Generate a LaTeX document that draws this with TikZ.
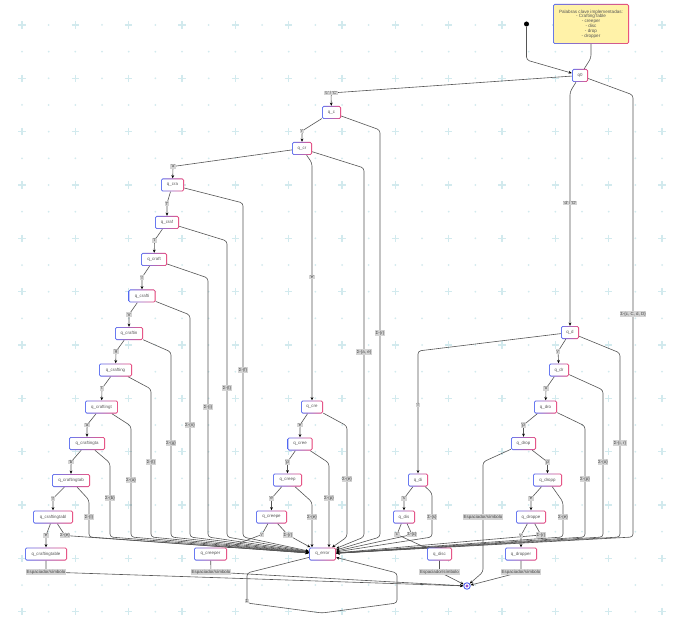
\documentclass[tikz,border=0pt]{standalone}
\usepackage{fontspec}
\setmainfont{Liberation Sans}[Ligatures=TeXOff]
\usetikzlibrary{arrows.meta}
\definecolor{gridc}{HTML}{D2EAEE}
\definecolor{sblue}{HTML}{5468F0}
\definecolor{spink}{HTML}{E83E74}
\definecolor{txtc}{HTML}{555555}
\definecolor{lblbg}{HTML}{D4D4D4}
\definecolor{lbltx}{HTML}{444444}
\definecolor{edgec}{HTML}{555555}
\definecolor{notey}{HTML}{FFF2A8}
\definecolor{finc}{HTML}{9A4FC8}
\pgfdeclarelayer{grid}
\pgfdeclarelayer{edges}
\pgfsetlayers{grid,edges,main}
\newcommand\smallfnt{\fontsize{4.4}{5}\selectfont}
\newcommand\notefnt{\fontsize{4.6}{4.8}\selectfont}
\tikzset{
  gbox/.style={rounded corners=1.6pt, inner sep=0pt, left color=sblue, right color=spink,
    path picture={\fill[#1, rounded corners=1pt]
      ([shift={(0.9pt,-0.9pt)}]path picture bounding box.north west) rectangle
      ([shift={(-0.9pt,0.9pt)}]path picture bounding box.south east);}},
  stt/.style={gbox=white, minimum height=13pt, minimum width=#1, text=txtc, font=\smallfnt},
  lbl/.style={fill=lblbg, inner sep=0.7pt, text=lbltx, font=\smallfnt},
  ed/.style={draw=edgec, line width=0.6pt, rounded corners=3pt},
  arr/.style={ed, -{Stealth[length=3.2pt,width=2.8pt,black]}},
}
\begin{document}
\begin{tikzpicture}[x=1pt,y=-1pt]
\useasboundingbox (0,0) rectangle (673,623);

% dotted background grid with crosses
\begin{pgfonlayer}{grid}
\fill[white] (0,0) rectangle (673,623);
\foreach \i in {0,...,24}{
  \foreach \j in {0,...,22}{
    \pgfmathsetmacro\gx{22+26.667*\i}
    \pgfmathsetmacro\gy{25+26.667*\j}
    \pgfmathtruncatemacro\k{mod(\i,2)+mod(\j,2)}
    \ifnum\k=0
      \draw[gridc, line width=1.4pt] (\gx-3.8,\gy) -- (\gx+3.8,\gy) (\gx,\gy-3.8) -- (\gx,\gy+3.8);
    \else
      \fill[gridc] (\gx,\gy) circle (1pt);
    \fi
  }}
\end{pgfonlayer}

% note and start
\node[gbox=notey, minimum width=76pt, minimum height=40pt, align=center, text=txtc, font=\notefnt] (note) at (591,24)
  {Palabras clave implementadas:\\- CraftingTable\\- creeper\\- disc\\- drop\\- dropper};
\node[circle, fill=black, inner sep=0pt, minimum size=5pt] (init) at (526.5,24) {};

% states
\node[stt=16pt] (q0) at (580,75.5) {q0};
\node[stt=19pt] (qc) at (331.5,112.5) {q\_c};
\node[stt=20pt] (qcr) at (302,148.5) {q\_cr};
\node[stt=23pt] (qcra) at (172.5,185) {q\_cra};
\node[stt=24pt] (qcraf) at (167,222.5) {q\_craf};
\node[stt=26pt] (qcraft) at (154,259.5) {q\_craft};
\node[stt=27pt] (qcrafti) at (142,296) {q\_crafti};
\node[stt=28pt] (qcraftin) at (129,333.5) {q\_craftin};
\node[stt=33pt] (qcrafting) at (115.5,370) {q\_crafting};
\node[stt=33pt] (qcraftingt) at (101.5,407) {q\_craftingt};
\node[stt=36pt] (qcraftingta) at (87,443.5) {q\_craftingta};
\node[stt=38pt] (qcraftingtab) at (71,480.5) {q\_craftingtab};
\node[stt=40pt] (qcraftingtabl) at (53,517) {q\_craftingtabl};
\node[stt=42pt] (qcraftingtable) at (46,554) {q\_craftingtable};
\node[stt=22pt] (qcre) at (312,407) {q\_cre};
\node[stt=25pt] (qcree) at (300,444) {q\_cree};
\node[stt=29pt] (qcreep) at (287.5,480) {q\_creep};
\node[stt=31pt] (qcreepe) at (271.5,517) {q\_creepe};
\node[stt=33pt] (qcreeper) at (210.5,554) {q\_creeper};
\node[stt=27pt] (qerr) at (322.5,554) {q\_error};
\node[stt=18pt] (qd) at (570,332.5) {q\_d};
\node[stt=20pt] (qdi) at (418,480) {q\_di};
\node[stt=22pt] (qdis) at (404,517) {q\_dis};
\node[stt=25pt] (qdisc) at (439.5,554) {q\_disc};
\node[stt=20pt] (qdr) at (559,370) {q\_dr};
\node[stt=23pt] (qdro) at (545.5,407) {q\_dro};
\node[stt=25pt] (qdrop) at (523.5,443.5) {q\_drop};
\node[stt=29pt] (qdropp) at (547.5,480) {q\_dropp};
\node[stt=30pt] (qdroppe) at (531,517) {q\_droppe};
\node[stt=32pt] (qdropper) at (521,554) {q\_dropper};

% accepting state
\node[circle, draw=sblue, line width=0.9pt, fill=white, inner sep=0pt, minimum size=6.5pt] (fin) at (467,586) {};
\fill[finc] (fin.center) circle (1.6pt);

\begin{pgfonlayer}{edges}
\draw[arr] (init) -- (526.5,60) -- (q0);
\draw[ed] (note) -- (591,58) -- (q0);
\end{pgfonlayer}

% letter transitions: source/target/label x/label y/letter
\foreach \s/\tg/\lx/\ly/\ch in {
  qc/qcr/302/131/r, qcr/qcra/173/166.5/a, qcra/qcraf/167/203.5/f,
  qcraf/qcraft/154.5/240.5/t, qcraft/qcrafti/142/277.5/i, qcrafti/qcraftin/129/314.5/n,
  qcraftin/qcrafting/116/351.5/g, qcrafting/qcraftingt/102/388.5/t,
  qcraftingt/qcraftingta/87/425/a, qcraftingta/qcraftingtab/71/462/b,
  qcraftingtab/qcraftingtabl/53/498.5/l, qcraftingtabl/qcraftingtable/46/535.5/e,
  qcre/qcree/300/425/e, qcree/qcreep/287.5/462/p, qcreep/qcreepe/271.5/498.5/e,
  qcreepe/qcreeper/262/534.5/r,
  qd/qdr/558/351.5/r, qdr/qdro/546/388.5/o, qdro/qdrop/523.5/425/p,
  qdrop/qdropp/547.5/462/p, qdropp/qdroppe/531/498.5/e, qdroppe/qdropper/521/535.5/r,
  qdi/qdis/404/498.5/s, qdis/qdisc/397/534.5/c}{
  \node[lbl] (l\tg) at (\lx,\ly) {'\ch'};
  \begin{pgfonlayer}{edges}
  \draw[arr] (\s) -- (l\tg.center) -- (\tg);
  \end{pgfonlayer}
}

% transitions from q0 and the long vertical ones
\node[lbl] (lqc) at (331,93) {'c' / 'C'};
\node[lbl] (lqd) at (570,203) {'d' / 'D'};
\node[lbl] (lqdi) at (418,405) {'i'};
\node[lbl] (lqcre) at (312,277) {'e'};
\begin{pgfonlayer}{edges}
\draw[arr] (q0) -- (lqc.center) -- (qc);
\draw[arr] (q0) -- (570,92) -- (lqd.center) -- (qd);
\draw[arr] (qd) -- (418,351) -- (lqdi.center) -- (qdi);
\draw[arr] (qcr) -- (312,163) -- (lqcre.center) -- (qcre);
\end{pgfonlayer}

% rejecting transitions: source/corner x/corner y/label y/text
\foreach \s/\cx/\cy/\ly/\t in {
  q0/633/95/314/{Σ-\{c, C, d, D\}},
  qc/380/130/333/{Σ-\{r\}},
  qcr/364/168/352/{Σ-\{a, e\}},
  qcra/243/203/370/{Σ-\{f\}},
  qcraf/227/241/388/{Σ-\{t\}},
  qcraft/208/278/407/{Σ-\{i\}},
  qcrafti/190/315/425/{Σ-\{n\}},
  qcraftin/171/352/443/{Σ-\{g\}},
  qcrafting/151/389/462/{Σ-\{t\}},
  qcraftingt/131/426/480/{Σ-\{a\}},
  qcraftingta/110/463/498/{Σ-\{b\}},
  qcraftingtab/89/500/517/{Σ-\{l\}},
  qcre/347/426/479/{Σ-\{e\}},
  qd/620/353/443/{Σ-\{i, r\}},
  qdr/603/390/462/{Σ-\{o\}},
  qdro/585/426/479/{Σ-\{p\}},
  qdropp/563/502/517/{Σ-\{e\}},
  qdi/432/493/517/{Σ-\{s\}}}{
  \node[lbl] (e\s) at (\cx,\ly) {\t};
  \begin{pgfonlayer}{edges}
  \draw[arr] (\s) -- (\cx,\cy) -- (\cx,537) -- (qerr);
  \end{pgfonlayer}
}

% rejecting transitions entering from above
\coordinate (cA) at (329,463);
\coordinate (cB) at (312,502);
\node[lbl] (eqcree) at (329,498) {Σ-\{p\}};
\node[lbl] (eqcreep) at (312,517) {Σ-\{e\}};
% short rejecting transitions
\node[lbl] (eqcraftingtabl) at (65,535.5) {Σ-\{e\}};
\node[lbl] (eqcreepe) at (288,535) {Σ-\{r\}};
\node[lbl] (eqdis) at (412,534.5) {Σ-\{c\}};
\node[lbl] (eqdroppe) at (541,535) {Σ-\{r\}};
\node[lbl] (eloop) at (247,601) {Σ};
\begin{pgfonlayer}{edges}
\draw[arr] (qcree) -- (cA) -- (cA |- qerr.north);
\draw[arr] (qcreep) -- (cB) -- (cB |- qerr.north);
\draw[arr] (qcraftingtabl) -- (eqcraftingtabl.center) -- (qerr);
\draw[arr] (qcreepe) -- (eqcreepe.center) -- (qerr);
\draw[arr] (qdis) -- (eqdis.center) -- (qerr);
\draw[arr] (qdroppe) -- (eqdroppe.center) -- (qerr);
\draw[arr] (qerr) -- (247,573) -- (247,603) -- (322,613) -- (397,603) -- (397,573) -- (qerr);
\end{pgfonlayer}

% accepting transitions
\foreach \s/\lx/\ly in {qcraftingtable/46/572, qcreeper/211/572, qdisc/439.5/572, qdropper/521/572}{
  \node[lbl] (f\s) at (\lx,\ly) {Espaciador/símbolo};
  \begin{pgfonlayer}{edges}
  \draw[arr] (\s) -- (f\s.center) -- (fin);
  \end{pgfonlayer}
}
\node[lbl] (fqdrop) at (483,517) {Espaciador/símbolo};
\begin{pgfonlayer}{edges}
\draw[arr] (qdrop) -- (483,462) -- (fqdrop.center) -- (483,572) -- (fin);
\end{pgfonlayer}
\end{tikzpicture}
\end{document}
